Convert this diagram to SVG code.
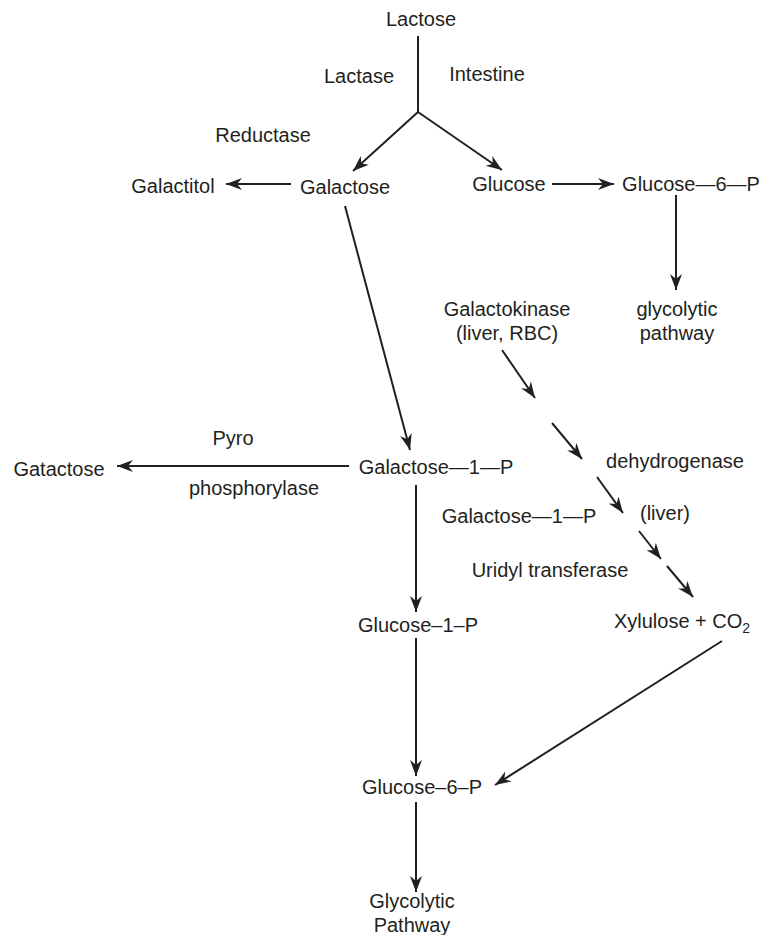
<svg xmlns="http://www.w3.org/2000/svg" width="768" height="935" viewBox="0 0 768 935">
<style>
text{font-family:"Liberation Sans",Arial,sans-serif;font-size:20px;fill:#231f20;text-anchor:middle}
.c line{stroke:#231f20;stroke-width:2;fill:none}
.a{marker-end:url(#ah)}
</style>
<defs>
<marker id="ah" viewBox="0 0 16 12" refX="16" refY="6" markerWidth="16" markerHeight="12" markerUnits="userSpaceOnUse" orient="auto">
<path d="M0,0 L16,6 L0,12 L5,6 Z" fill="#231f20"/>
</marker>
</defs>
<rect width="768" height="935" fill="#fff"/>
<g class="c" id="connectors">
<line x1="418" y1="36" x2="418" y2="112"/>
<line class="a" x1="418" y1="112" x2="353" y2="171"/>
<line class="a" x1="418" y1="112" x2="502" y2="170"/>
<line class="a" x1="291" y1="184" x2="226" y2="184"/>
<line class="a" x1="552" y1="184" x2="614" y2="184"/>
<line class="a" x1="676" y1="195" x2="676" y2="290"/>
<line class="a" x1="345" y1="206" x2="410" y2="450"/>
<line class="a" x1="349" y1="466" x2="117" y2="466"/>
<line class="a" x1="416" y1="485" x2="416" y2="612"/>
<line class="a" x1="416" y1="638" x2="416" y2="776"/>
<line class="a" x1="722" y1="641" x2="495" y2="785"/>
<line class="a" x1="416" y1="802" x2="416" y2="892"/>
<line class="a" x1="502" y1="350" x2="535" y2="398"/>
<line class="a" x1="552" y1="423" x2="582" y2="459"/>
<line class="a" x1="597" y1="477" x2="623" y2="513"/>
<line class="a" x1="639" y1="531" x2="661" y2="559"/>
<line class="a" x1="667" y1="566" x2="693" y2="597"/>
</g>
<g id="lactose"><text x="421" y="26">Lactose</text></g>
<g id="lactase"><text x="359" y="83">Lactase</text></g>
<g id="intestine"><text x="487" y="81">Intestine</text></g>
<g id="reductase"><text x="263" y="142">Reductase</text></g>
<g id="galactitol"><text x="173" y="193">Galactitol</text></g>
<g id="galactose"><text x="345" y="194">Galactose</text></g>
<g id="glucose"><text x="509" y="191">Glucose</text></g>
<g id="glucose6p-top"><text x="691" y="191">Glucose—6—P</text></g>
<g id="glycolytic-top"><text x="677" y="316">glycolytic</text><text x="677" y="340">pathway</text></g>
<g id="galactokinase"><text x="507" y="316">Galactokinase</text><text x="507" y="340">(liver, RBC)</text></g>
<g id="galactose1p"><text x="436" y="474">Galactose—1—P</text></g>
<g id="gatactose"><text x="59" y="476">Gatactose</text></g>
<g id="pyro"><text x="233" y="445">Pyro</text><text x="254" y="495">phosphorylase</text></g>
<g id="dehydrogenase"><text x="675" y="468">dehydrogenase</text></g>
<g id="galactose1p-right"><text x="519" y="523">Galactose—1—P</text></g>
<g id="liver"><text x="665" y="520">(liver)</text></g>
<g id="uridyl"><text x="550" y="577">Uridyl transferase</text></g>
<g id="xylulose"><text x="682" y="628">Xylulose + CO<tspan font-size="14" dy="5">2</tspan></text></g>
<g id="glucose1p"><text x="418" y="632">Glucose–1–P</text></g>
<g id="glucose6p"><text x="422" y="794">Glucose–6–P</text></g>
<g id="glycolytic"><text x="412" y="908">Glycolytic</text><text x="412" y="932">Pathway</text></g>
</svg>
